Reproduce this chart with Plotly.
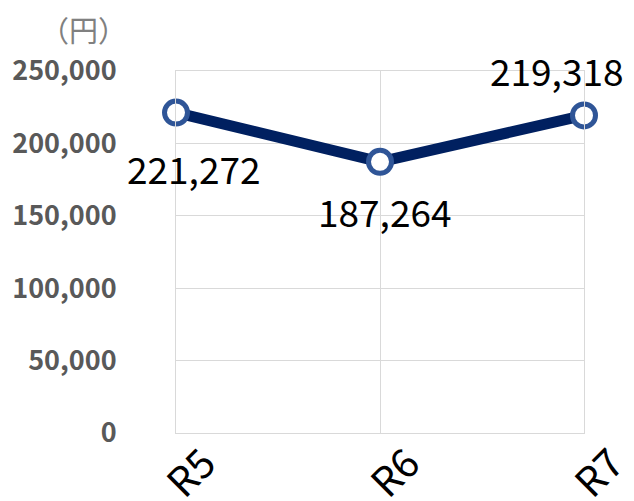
import plotly.graph_objects as go

categories = ["R5", "R6", "R7"]
values = [221272, 187264, 219318]
y_ticks = [0, 50000, 100000, 150000, 200000, 250000]
y_tick_labels = ["0", "50,000", "100,000", "150,000", "200,000", "250,000"]
unit_label = "（円）"

OFF = 7  # page body offset
W, H = 634 - OFF, 501 - OFF
L, R, T, B = 175 - OFF, 51, 70 - OFF, 69
pw = W - L - R
ph = H - T - B

label_shift = [(18, -55), (5, -49), (-27, 45)]

fig = go.Figure()
fig.add_trace(go.Scatter(
    x=categories, y=values, mode="lines+markers",
    line=dict(color="#002060", width=11),
    marker=dict(size=23, color="white", line=dict(color="#2F5597", width=5)),
    cliponaxis=False, showlegend=False,
))

for c, v, (dx, dy) in zip(categories, values, label_shift):
    fig.add_annotation(x=c, y=v, xref="x", yref="y", text=f"{v:,}",
                       showarrow=False, xshift=dx, yshift=dy,
                       font=dict(size=37, color="#000000", family="Noto Sans CJK JP"))

fig.add_annotation(x=(82 - OFF - L) / pw, y=(H - (28 - OFF) - B) / ph, xref="paper", yref="paper",
                   text=unit_label, showarrow=False, xanchor="center", yanchor="middle",
                   font=dict(size=29, color="#808080", family="Noto Sans CJK JP"))

fig.update_layout(
    width=W, height=H,
    margin=dict(l=L, r=R, t=T, b=B, pad=0),
    plot_bgcolor="white", paper_bgcolor="white",
    xaxis=dict(
        type="category", range=[0, 2], showgrid=True, gridcolor="#D9D9D9", gridwidth=1,
        showline=True, linecolor="#D9D9D9", linewidth=1, mirror=True, automargin=False,
        ticks="", tickangle=-45, ticklabelshift=28, ticklabelstandoff=-10,
        tickfont=dict(size=40, color="#000000", family="Noto Sans CJK JP"),
        zeroline=False,
    ),
    yaxis=dict(
        range=[0, 250000], tickvals=y_ticks, ticktext=y_tick_labels, automargin=False,
        showgrid=True, gridcolor="#D9D9D9", gridwidth=1,
        showline=True, linecolor="#D9D9D9", linewidth=1, mirror=True,
        ticks="", ticklabelstandoff=53, zeroline=False,
        tickfont=dict(size=27, color="#595959", family="Noto Sans CJK JP", weight="bold"),
    ),
)

fig.write_html("out.html")
